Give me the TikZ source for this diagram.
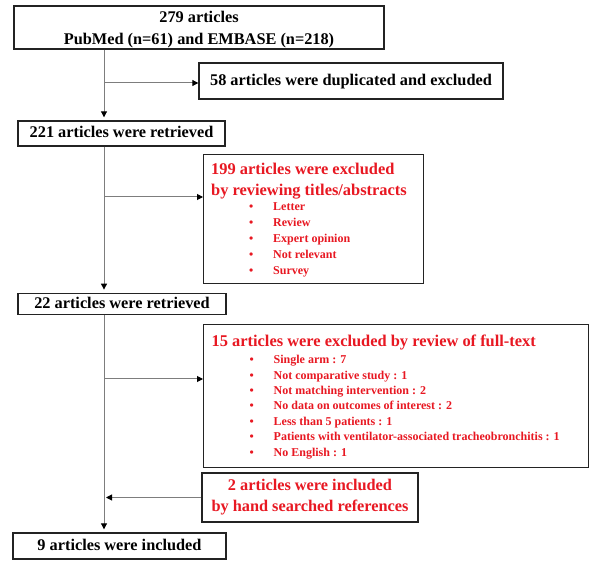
\documentclass[tikz,border=0pt]{standalone}
\usepackage{fontspec}
\setmainfont{Liberation Serif}
\usetikzlibrary{arrows.meta}
\definecolor{redtxt}{RGB}{232,24,34}
\definecolor{lnk}{RGB}{125,125,125}
\definecolor{bord}{RGB}{35,35,35}
\setlength{\parindent}{0pt}
\newcommand{\bul}{\hspace*{38pt}\makebox[24pt][l]{•}}
\newcommand{\headf}{\fontsize{16.4}{21}\selectfont}
\newcommand{\fstrut}{\rule{0pt}{13pt}}
\begin{document}
\begin{tikzpicture}[x=1pt,y=-1pt,
  frame/.style={draw=bord,line width=1.4pt,inner sep=0pt},
  box/.style={frame,font=\fontsize{16.3}{21.5}\selectfont\bfseries,
    text height=12pt,text depth=3pt},
  txt/.style={inner sep=0pt,font=\bfseries},
  arr/.style={draw=lnk,line width=1pt,-{Triangle[length=6pt,width=6pt,color=black]}},
  down/.style={arr,shorten >=3pt}]
\useasboundingbox (0,0) rectangle (590,561);
\fill[white] (0,0) rectangle (590,561);

% top box
\node[frame,minimum width=370,minimum height=43] (b1) at (199,27.5) {};
\node[txt,anchor=north,align=flush center,font=\fontsize{16.3}{22}\selectfont\bfseries] (t1) at (199,9.5)
  {\fstrut 279 articles\\PubMed (n=61) and EMBASE (n=218)};

\node[box,minimum width=304,minimum height=36] (e1) at (351,81)
  {58 articles were duplicated and excluded};
\node[box,minimum width=207,minimum height=25] (b2) at (121.5,133.5)
  {221 articles were retrieved};

% 199 excluded
\node[frame,anchor=north west,minimum width=220,minimum height=129] (e2) at (203,154) {};
\node[txt,text=redtxt,anchor=north west,text width=210pt,align=flush left] (t2) at (211,161.8)
  {{\headf\fstrut 199 articles were excluded\\by reviewing titles/abstracts\par}
   \vspace{-1pt}
   {\fontsize{12}{16}\selectfont
   \bul Letter\par
   \bul Review\par
   \bul Expert opinion\par
   \bul Not relevant\par
   \bul Survey\par}};

\node[box,minimum width=208,minimum height=21] (b3) at (122,303.8)
  {22 articles were retrieved};

% 15 excluded
\node[frame,anchor=north west,minimum width=385,minimum height=143] (e3) at (203,324) {};
\node[txt,text=redtxt,anchor=north west,text width=370pt,align=flush left] (t3) at (211.5,333.8)
  {{\headf\fstrut 15 articles were excluded by review of full-text\par}
   \vspace{1.6pt}
   {\fontsize{12}{15.35}\selectfont
   \bul Single arm : 7\par
   \bul Not comparative study : 1\par
   \bul Not matching intervention : 2\par
   \bul No data on outcomes of interest : 2\par
   \bul Less than 5 patients : 1\par
   \bul Patients with ventilator-associated tracheobronchitis : 1\par
   \bul No English : 1\par}};

% 2 included
\node[frame,minimum width=216,minimum height=49] (e4) at (310,497.5) {};
\node[txt,text=redtxt,anchor=north,align=flush center,font=\fontsize{16.3}{21}\selectfont\bfseries] (t4) at (310,477.7)
  {\fstrut 2 articles were included\\by hand searched references};

\node[box,minimum width=213,minimum height=26] (b4) at (119.5,546)
  {9 articles were included};

\coordinate (sx) at (104,0);
\draw[down] (b1.south -| sx) -- (b2.north -| sx);
\draw[down] (b2.south -| sx) -- (b3.north -| sx);
\draw[down] (b3.south -| sx) -- (b4.north -| sx);
\coordinate (j1) at (104,83);
\draw[arr] (j1) -- (j1 -| e1.west);
\coordinate (j2) at (104,197);
\draw[arr] (j2) -- (j2 -| e2.west);
\coordinate (j3) at (104,379);
\draw[arr] (j3) -- (j3 -| e3.west);
\coordinate (j4) at (106,497.5);
\draw[arr] (e4.west) -- (j4 |- e4.west);
\end{tikzpicture}
\end{document}
